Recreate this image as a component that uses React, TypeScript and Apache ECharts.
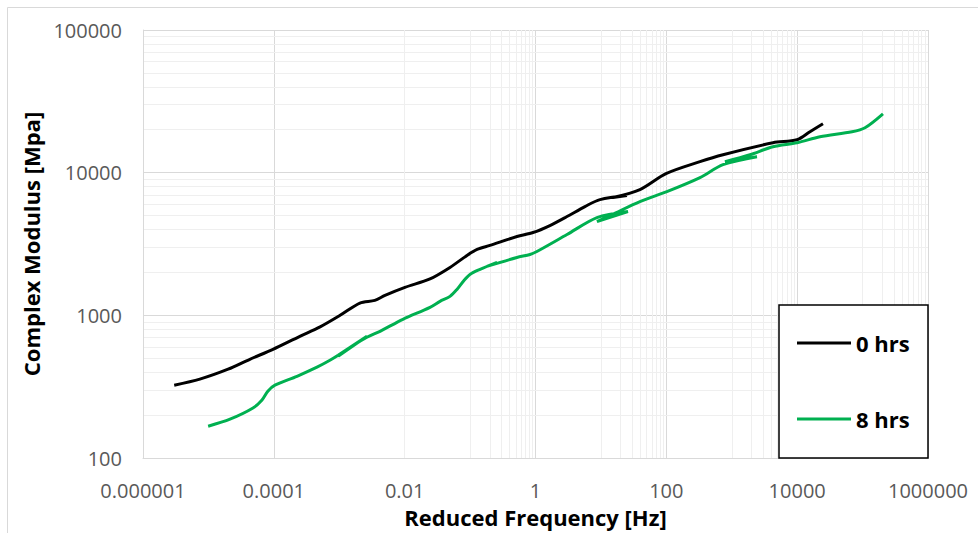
import React, { useEffect, useRef } from "react";
import * as echarts from "echarts";

const xTickValues = [1e-6, 1e-4, 1e-2, 1, 100, 1e4, 1e6];
const xTickLabels = ["0.000001", "0.0001", "0.01", "1", "100", "10000", "1000000"];
const yTickValues = [100, 1000, 10000, 100000];
const yTickLabels = ["100", "1000", "10000", "100000"];

const seriesNames = ["0 hrs", "8 hrs"];

// 0 hrs master curve (frequency Hz, modulus MPa), segments joined as in source
const freq0 = [
  3.0e-6, 7.4e-6, 2.0e-5, 4.3e-5, 9.7e-5, 2.5e-4, 5.1e-4, 1.03e-3, 2.07e-3, 3.5e-3,
  5.0e-3, 0.0101, 0.0244, 0.0493, 0.0897, 0.128, 0.201, 0.521, 0.916, 1.66,
  3.03, 5.7, 9.68, 25, 15.3, 39.5, 98.8, 327, 735, 4270,
  9935, 15700, 24800,
];
const mod0 = [
  324, 357, 419, 492, 578, 713, 830, 1000, 1220, 1273,
  1380, 1570, 1800, 2167, 2628, 2895, 3090, 3568, 3805, 4260,
  4925, 5785, 6475, 6905, 6690, 7610, 9840, 11940, 13360, 16200,
  17000, 19350, 22000,
];

// 8 hrs master curve
const freq8 = [
  9.9e-6, 2.14e-5, 4.8e-5, 6.6e-5, 8.1e-5, 1.04e-4, 2.26e-4, 4.57e-4, 7.2e-4, 9.6e-4,
  2.65e-3, 9.6e-4, 1.57e-3, 2.65e-3, 4.2e-3, 9.4e-3, 0.0244, 0.0347, 0.0493, 0.063,
  0.0807, 0.0995, 0.142, 0.258, 0.181, 0.52, 0.824, 1.05, 3.03, 8.7,
  25.9, 8.7, 14.8, 39.5, 102, 327, 735, 2430, 787, 1900,
  4270, 9935, 22300, 68900, 1.09e5, 2.05e5,
];
const mod8 = [
  167, 187, 224, 255, 294, 324, 374, 433, 484, 525,
  713, 517, 607, 702, 773, 938, 1138, 1253, 1358, 1520,
  1757, 1935, 2098, 2348, 2202, 2545, 2671, 2803, 3686, 4844,
  5336, 4545, 5085, 6270, 7360, 9230, 11370, 12940, 11940, 13360,
  15200, 16200, 17850, 19350, 20650, 25850,
];

// minor gridline positions (Excel style: 10..90 x each base-100 major, 2..9 x each decade on y)
const xMinorMultipliers = [10, 20, 30, 40, 50, 60, 70, 80, 90];
const yMinorMultipliers = [2, 3, 4, 5, 6, 7, 8, 9];

const FONT = "'Open Sans', 'Liberation Sans', sans-serif";

export default function App() {
  const ref = useRef<HTMLDivElement>(null);

  useEffect(() => {
    if (!ref.current) return;
    const chart = echarts.init(ref.current, null, { renderer: "svg" });

    const minorLines: any[] = [];
    for (let i = 0; i < xTickValues.length - 1; i++) {
      for (const m of xMinorMultipliers) minorLines.push({ xAxis: xTickValues[i] * m });
    }
    for (let i = 0; i < yTickValues.length - 1; i++) {
      for (const m of yMinorMultipliers) minorLines.push({ yAxis: yTickValues[i] * m });
    }

    const fmt = (vals: number[], labels: string[]) => (v: number) => {
      const idx = vals.findIndex((t) => Math.abs(Math.log10(t) - Math.log10(v)) < 1e-6);
      return idx >= 0 ? labels[idx] : "";
    };

    chart.setOption({
      animation: false,
      backgroundColor: "#ffffff",
      grid: { left: 143, top: 30, right: 50, bottom: 74, containLabel: false },
      xAxis: {
        type: "log",
        logBase: 100,
        min: 1e-6,
        max: 1e6,
        name: "Reduced Frequency [Hz]",
        nameLocation: "middle",
        nameGap: 48,
        nameTextStyle: { fontFamily: FONT, fontWeight: "bold", fontSize: 22, color: "#000" },
        axisLine: { show: true, lineStyle: { color: "#d9d9d9", width: 1 } },
        axisTick: { show: false },
        axisLabel: {
          fontFamily: FONT,
          fontSize: 20,
          color: "#595959",
          margin: 22,
          formatter: fmt(xTickValues, xTickLabels),
        },
        splitLine: { show: true, lineStyle: { color: "#d9d9d9", width: 1 } },
      },
      yAxis: {
        type: "log",
        logBase: 10,
        min: 100,
        max: 100000,
        name: "Complex Modulus [Mpa]",
        nameLocation: "middle",
        nameGap: 101,
        nameTextStyle: { fontFamily: FONT, fontWeight: "bold", fontSize: 22, color: "#000" },
        axisLine: { show: true, lineStyle: { color: "#d9d9d9", width: 1 } },
        axisTick: { show: false },
        axisLabel: {
          fontFamily: FONT,
          fontSize: 20,
          color: "#595959",
          margin: 21,
          formatter: fmt(yTickValues, yTickLabels),
        },
        splitLine: { show: true, lineStyle: { color: "#d9d9d9", width: 1 } },
      },
      legend: {
        data: seriesNames,
        orient: "vertical",
        left: 792,
        top: 326,
        itemWidth: 54,
        itemHeight: 3,
        itemGap: 52,
        icon: "rect",
        z: 100,
        textStyle: { fontFamily: FONT, fontWeight: "bold", fontSize: 22, color: "#000", lineHeight: 24 },
      },
      graphic: [
        {
          type: "rect",
          silent: true,
          z: -10,
          shape: { x: 7.5, y: 7.5, width: 1200, height: 800 },
          style: { fill: "none", stroke: "#d9d9d9", lineWidth: 1 },
        },
        {
          type: "rect",
          silent: true,
          z: 50,
          shape: { x: 779, y: 305, width: 149, height: 153 },
          style: { fill: "#ffffff", stroke: "#000000", lineWidth: 1.5 },
        },
      ],
      series: [
        {
          name: "minor-grid",
          type: "line",
          data: [],
          z: 0,
          silent: true,
          markLine: {
            z: 0,
            silent: true,
            symbol: "none",
            label: { show: false },
            lineStyle: { color: "#efefef", width: 1, type: "solid" },
            data: minorLines,
          },
        },
        {
          name: seriesNames[0],
          type: "line",
          z: 3,
          showSymbol: false,
          symbol: "none",
          smooth: 0.3,
          color: "#000000",
          lineStyle: { color: "#000000", width: 3 },
          data: freq0.map((f, i) => [f, mod0[i]]),
        },
        {
          name: seriesNames[1],
          type: "line",
          z: 3,
          showSymbol: false,
          symbol: "none",
          smooth: 0.3,
          color: "#00b050",
          lineStyle: { color: "#00b050", width: 3 },
          data: freq8.map((f, i) => [f, mod8[i]]),
        },
      ],
    });

    return () => chart.dispose();
  }, []);

  return (
    <div
      ref={ref}
      style={{ position: "absolute", left: 0, top: 0, width: 978, height: 533 }}
    />
  );
}
